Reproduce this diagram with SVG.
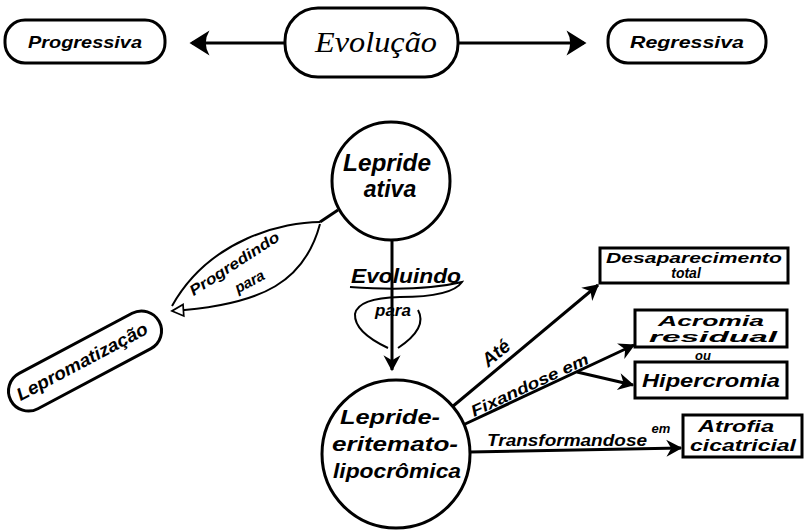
<svg xmlns="http://www.w3.org/2000/svg" width="809" height="530" viewBox="0 0 809 530">
<style>
.t{font-family:"Liberation Sans","DejaVu Sans",sans-serif;font-style:italic;font-weight:bold;fill:#000;text-anchor:middle}
.box{fill:#fff;stroke:#000;stroke-width:3}
.ln{fill:none;stroke:#000;stroke-width:3}
.thin{fill:none;stroke:#000;stroke-width:2}
</style>
<defs>
<marker id="big" markerUnits="userSpaceOnUse" markerWidth="30" markerHeight="30" viewBox="-16 -12 20 24" refX="0" refY="0" orient="auto">
<path d="M2,0 L-14,-10 Q-8,0 -14,10 Z" fill="#000"/>
</marker>
<marker id="sm" markerUnits="userSpaceOnUse" markerWidth="22" markerHeight="22" viewBox="-14 -9 16 18" refX="0" refY="0" orient="auto">
<path d="M1,0 L-12,-7 L-8,0 L-12,7 Z" fill="#000"/>
</marker>
<marker id="open" markerUnits="userSpaceOnUse" markerWidth="16" markerHeight="16" viewBox="-12 -7 14 14" refX="0" refY="0" orient="auto">
<path d="M0,0 L-10,-5 L-10,5 Z" fill="#fff" stroke="#000" stroke-width="1.5"/>
</marker>
</defs>

<g id="connectors">
<line class="ln" x1="285" y1="43" x2="192" y2="43" stroke-width="4" marker-end="url(#big)"/>
<line class="ln" x1="458" y1="43" x2="584" y2="43" stroke-width="4" marker-end="url(#big)"/>
<line class="ln" x1="338" y1="210" x2="320" y2="222" stroke-width="5"/>
<path class="thin" d="M320,222 C285,222 210,238 172,306"/>
<path class="thin" d="M320,224 C305,280 265,305 172,311" marker-end="url(#open)"/>
<line class="ln" x1="392" y1="240" x2="392" y2="370" stroke-width="4" marker-end="url(#sm)"/>
<path class="thin" d="M350,287 Q420,292 462,282 Q452,297 400,297 Q358,298 355,314 Q354,332 388,348"/>
<path class="thin" d="M418,310 Q428,328 398,348"/>
<line class="ln" x1="452" y1="407" x2="598" y2="285" marker-end="url(#sm)"/>
<line class="ln" x1="463" y1="425" x2="634" y2="345" marker-end="url(#sm)"/>
<line class="ln" x1="577" y1="372" x2="633" y2="385" marker-end="url(#sm)"/>
<line class="ln" x1="470" y1="452" x2="681" y2="448" marker-end="url(#sm)"/>
<text class="t" font-size="15" transform="translate(237,268) rotate(-33)" textLength="104" lengthAdjust="spacingAndGlyphs">Progredindo</text>
<text class="t" font-size="15" transform="translate(252,286) rotate(-28)">para</text>
<text class="t" font-size="21" x="406" y="283" textLength="110" lengthAdjust="spacingAndGlyphs">Evoluindo</text>
<text class="t" font-size="17" x="393" y="316">para</text>
<text class="t" font-size="19" transform="translate(500,358) rotate(-40)">Até</text>
<text class="t" font-size="16" transform="translate(532,390) rotate(-25)" textLength="128" lengthAdjust="spacingAndGlyphs">Fixandose em</text>
<text class="t" font-size="16" x="567" y="446" textLength="160" lengthAdjust="spacingAndGlyphs">Transformandose</text>
<text class="t" font-size="13" x="661" y="433">em</text>
</g>

<g id="progressiva">
<rect class="box" x="5" y="20" width="160" height="43" rx="20"/>
<text class="t" font-size="17" x="85" y="48" textLength="114" lengthAdjust="spacingAndGlyphs">Progressiva</text>
</g>
<g id="evolucao">
<rect class="box" x="285" y="8" width="173" height="69" rx="33"/>
<text class="t" font-size="29" x="376" y="52" textLength="122" lengthAdjust="spacingAndGlyphs" style="font-family:'Liberation Serif',serif;font-weight:normal">Evolução</text>
</g>
<g id="regressiva">
<rect class="box" x="608" y="20" width="158" height="43" rx="20"/>
<text class="t" font-size="17" x="687" y="48" textLength="114" lengthAdjust="spacingAndGlyphs">Regressiva</text>
</g>
<g id="lepride-ativa">
<circle class="box" cx="391" cy="181" r="59" stroke-width="4"/>
<text class="t" font-size="23" x="387" y="171" textLength="88" lengthAdjust="spacingAndGlyphs">Lepride</text>
<text class="t" font-size="23" x="390" y="197">ativa</text>
</g>
<g id="lepromatizacao">
<rect class="box" x="-84" y="-20" width="168" height="40" rx="20" transform="translate(85,361) rotate(-28)"/>
<text class="t" font-size="18" transform="translate(85,367) rotate(-28)" textLength="146" lengthAdjust="spacingAndGlyphs">Lepromatização</text>
</g>
<g id="lepride-eritemato">
<circle class="box" cx="396" cy="454" r="74" stroke-width="4"/>
<text class="t" font-size="21" x="390" y="424" textLength="100" lengthAdjust="spacingAndGlyphs">Lepride-</text>
<text class="t" font-size="21" x="395" y="451" textLength="126" lengthAdjust="spacingAndGlyphs">eritemato-</text>
<text class="t" font-size="21" x="397" y="478" textLength="128" lengthAdjust="spacingAndGlyphs">lipocrômica</text>
</g>
<g id="desaparecimento">
<rect class="box" x="600" y="248" width="188" height="35"/>
<text class="t" font-size="14" x="694" y="263" textLength="176" lengthAdjust="spacingAndGlyphs">Desaparecimento</text>
<text class="t" font-size="14" x="686" y="278">total</text>
</g>
<g id="acromia">
<rect class="box" x="635" y="310" width="152" height="37"/>
<text class="t" font-size="15" x="711" y="326" textLength="106" lengthAdjust="spacingAndGlyphs">Acromia</text>
<text class="t" font-size="15" x="713" y="342" textLength="128" lengthAdjust="spacingAndGlyphs">residual</text>
</g>
<text class="t" font-size="13" x="703" y="360">ou</text>
<g id="hipercromia">
<rect class="box" x="635" y="362" width="152" height="36"/>
<text class="t" font-size="18" x="711" y="387" textLength="138" lengthAdjust="spacingAndGlyphs">Hipercromia</text>
</g>
<g id="atrofia">
<rect class="box" x="683" y="415" width="119" height="42"/>
<text class="t" font-size="17" x="736" y="432" textLength="76" lengthAdjust="spacingAndGlyphs">Atrofia</text>
<text class="t" font-size="17" x="743" y="451" textLength="106" lengthAdjust="spacingAndGlyphs">cicatricial</text>
</g>
</svg>
